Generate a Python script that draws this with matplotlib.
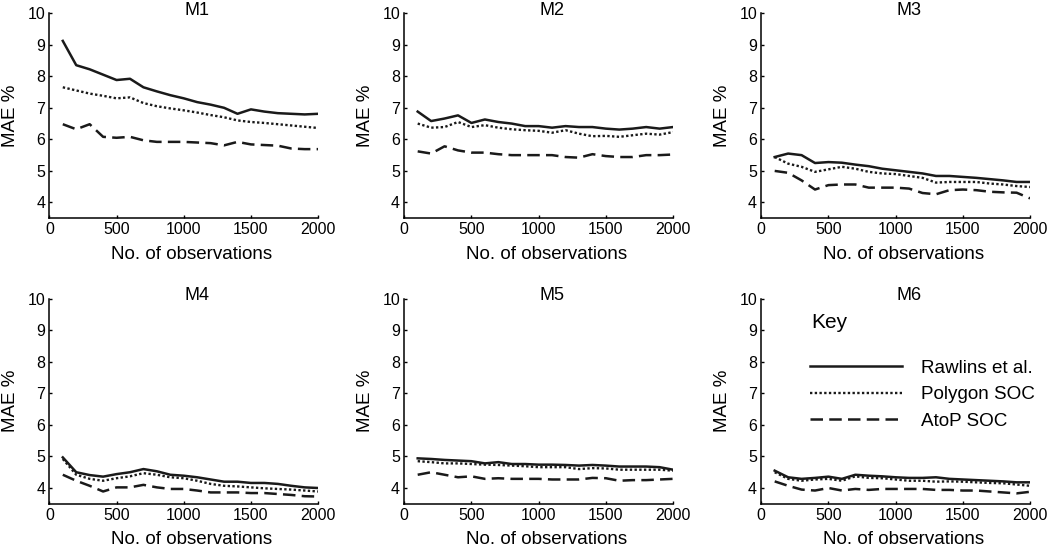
import matplotlib
matplotlib.use('Agg')
import matplotlib.pyplot as plt

plt.rcParams['font.family'] = ['Liberation Sans', 'DejaVu Sans']

# Número de observaciones (eje x)
n_obs = [100, 200, 300, 400, 500, 600, 700, 800, 900, 1000,
         1100, 1200, 1300, 1400, 1500, 1600, 1700, 1800, 1900, 2000]

panels = ['M1', 'M2', 'M3', 'M4', 'M5', 'M6']
series_names = ['Rawlins et al.', 'Polygon SOC', 'AtoP SOC']

# MAE % por panel: Rawlins et al.
rawlins = {
    'M1': [9.12, 8.35, 8.22, 8.05, 7.88, 7.92, 7.65, 7.52, 7.40, 7.30,
           7.18, 7.10, 7.00, 6.81, 6.95, 6.88, 6.83, 6.81, 6.79, 6.81],
    'M2': [6.88, 6.58, 6.66, 6.76, 6.52, 6.63, 6.55, 6.50, 6.42, 6.42,
           6.37, 6.42, 6.39, 6.39, 6.34, 6.31, 6.34, 6.39, 6.34, 6.39],
    'M3': [5.44, 5.55, 5.50, 5.25, 5.28, 5.26, 5.20, 5.15, 5.07, 5.02,
           4.97, 4.92, 4.84, 4.84, 4.81, 4.78, 4.74, 4.70, 4.65, 4.65],
    'M4': [4.97, 4.50, 4.41, 4.36, 4.44, 4.50, 4.60, 4.53, 4.42, 4.39,
           4.34, 4.27, 4.20, 4.20, 4.16, 4.16, 4.13, 4.07, 4.02, 4.00],
    'M5': [4.94, 4.92, 4.89, 4.87, 4.85, 4.78, 4.82, 4.76, 4.76, 4.74,
           4.74, 4.73, 4.71, 4.73, 4.71, 4.68, 4.68, 4.68, 4.66, 4.58],
    'M6': [4.55, 4.34, 4.29, 4.32, 4.36, 4.29, 4.42, 4.39, 4.37, 4.34,
           4.32, 4.32, 4.34, 4.29, 4.27, 4.25, 4.23, 4.21, 4.18, 4.18],
}

# MAE % por panel: Polygon SOC
polygon = {
    'M1': [7.65, 7.55, 7.45, 7.38, 7.30, 7.33, 7.15, 7.05, 6.98, 6.92,
           6.85, 6.77, 6.70, 6.60, 6.55, 6.52, 6.48, 6.44, 6.40, 6.36],
    'M2': [6.50, 6.37, 6.39, 6.55, 6.39, 6.45, 6.37, 6.32, 6.29, 6.27,
           6.21, 6.29, 6.18, 6.10, 6.11, 6.08, 6.13, 6.18, 6.15, 6.23],
    'M3': [5.44, 5.23, 5.13, 4.97, 5.05, 5.13, 5.07, 4.97, 4.92, 4.90,
           4.84, 4.78, 4.63, 4.65, 4.65, 4.65, 4.60, 4.57, 4.52, 4.49],
    'M4': [4.92, 4.42, 4.29, 4.23, 4.31, 4.37, 4.47, 4.42, 4.34, 4.31,
           4.23, 4.13, 4.07, 4.05, 4.02, 3.99, 3.97, 3.95, 3.92, 3.89],
    'M5': [4.85, 4.82, 4.78, 4.78, 4.76, 4.74, 4.73, 4.71, 4.69, 4.66,
           4.66, 4.66, 4.60, 4.63, 4.62, 4.58, 4.58, 4.58, 4.58, 4.55],
    'M6': [4.50, 4.29, 4.23, 4.27, 4.29, 4.23, 4.37, 4.32, 4.31, 4.27,
           4.23, 4.23, 4.20, 4.21, 4.20, 4.18, 4.16, 4.15, 4.11, 4.07],
}

# MAE % por panel: AtoP SOC
atop = {
    'M1': [6.48, 6.32, 6.48, 6.08, 6.05, 6.08, 5.97, 5.92, 5.92, 5.92,
           5.90, 5.88, 5.81, 5.92, 5.84, 5.82, 5.80, 5.71, 5.69, 5.69],
    'M2': [5.62, 5.55, 5.78, 5.65, 5.58, 5.58, 5.53, 5.50, 5.50, 5.50,
           5.50, 5.44, 5.42, 5.53, 5.47, 5.44, 5.44, 5.50, 5.50, 5.52],
    'M3': [5.00, 4.94, 4.70, 4.41, 4.55, 4.57, 4.57, 4.47, 4.47, 4.47,
           4.44, 4.30, 4.26, 4.39, 4.41, 4.39, 4.34, 4.32, 4.31, 4.13],
    'M4': [4.42, 4.23, 4.07, 3.89, 4.02, 4.02, 4.10, 4.02, 3.97, 3.97,
           3.92, 3.86, 3.86, 3.86, 3.84, 3.84, 3.81, 3.78, 3.74, 3.73],
    'M5': [4.42, 4.50, 4.42, 4.34, 4.37, 4.29, 4.31, 4.29, 4.29, 4.29,
           4.27, 4.27, 4.27, 4.32, 4.31, 4.23, 4.25, 4.25, 4.27, 4.29],
    'M6': [4.21, 4.07, 3.95, 3.92, 4.00, 3.92, 3.97, 3.94, 3.97, 3.97,
           3.97, 3.97, 3.94, 3.94, 3.92, 3.92, 3.89, 3.86, 3.83, 3.88],
}

x_ticks = [0, 500, 1000, 1500, 2000]
y_ticks = [4, 5, 6, 7, 8, 9, 10]

fig = plt.figure(figsize=(10.5, 5.47), dpi=100)

# posiciones de los ejes (izquierda, abajo, ancho, alto) en fracción de la figura
lefts = [0.047, 0.385, 0.725]
bottoms = [0.601, 0.079]
width = 0.256
height = 0.375

line_color = '#1a1a1a'

for i, name in enumerate(panels):
    row, col = divmod(i, 3)
    ax = fig.add_axes([lefts[col], bottoms[row], width, height])
    l1, = ax.plot(n_obs, rawlins[name], color=line_color, lw=1.8, ls='-')
    l2, = ax.plot(n_obs, polygon[name], color=line_color, lw=1.7, ls=(0, (1, 1)))
    l3, = ax.plot(n_obs, atop[name], color=line_color, lw=1.8, ls=(0, (5, 2.5)))

    ax.set_xlim(0, 2000)
    ax.set_ylim(3.5, 10)
    ax.set_xticks(x_ticks)
    ax.set_yticks(y_ticks)
    ax.spines['top'].set_visible(False)
    ax.spines['right'].set_visible(False)
    ax.spines['left'].set_linewidth(1.1)
    ax.spines['bottom'].set_linewidth(1.1)
    ax.tick_params(direction='in', length=2.5, width=1, labelsize=11.5, pad=3)
    # título dentro de la figura, justo encima del borde superior
    ax.text(0.55, 1.015, name, transform=ax.transAxes, ha='center', va='center',
            fontsize=13)
    ax.set_xlabel('No. of observations', fontsize=13.5, x=0.53, labelpad=6)
    ax.set_ylabel('MAE %', fontsize=13.5, labelpad=6)

    if name == 'M6':
        ax.text(370, 9.25, 'Key', fontsize=15, va='center')
        ax.legend([l1, l2, l3], series_names, frameon=False, fontsize=13.6,
                  loc='upper left', bbox_to_anchor=(0.153, 0.74),
                  handlelength=4.9, handletextpad=1.0, labelspacing=0.49,
                  borderaxespad=0)

fig.savefig('out.png', dpi=100)
